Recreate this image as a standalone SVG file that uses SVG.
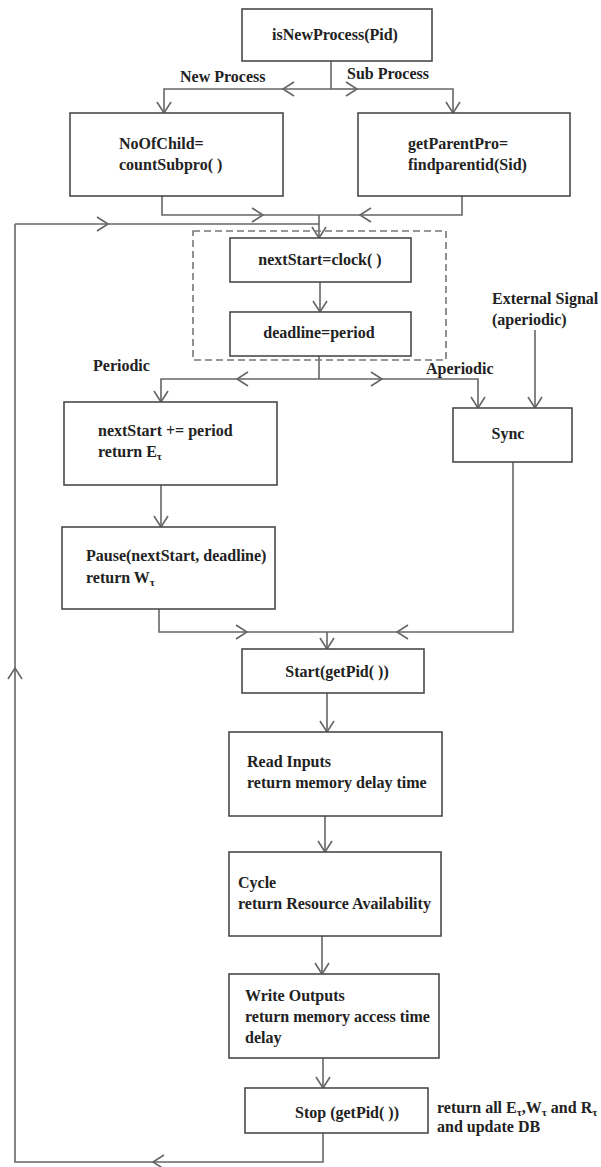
<svg xmlns="http://www.w3.org/2000/svg" width="601" height="1167" viewBox="0 0 601 1167">
<style>
.box{fill:#fff;stroke:#4a4a4a;stroke-width:1.6}
.dash{fill:none;stroke:#777;stroke-width:1.6;stroke-dasharray:7,4}
.ln{fill:none;stroke:#666;stroke-width:1.6}
.a{marker-end:url(#arr)}
text{font-family:"Liberation Serif","Times New Roman",serif;font-weight:bold;font-size:16px;fill:#222}
.c{text-anchor:middle}
.sub{font-size:11px}
</style>
<defs>
<marker id="arr" markerUnits="userSpaceOnUse" markerWidth="14" markerHeight="16" refX="12" refY="8" orient="auto" viewBox="0 0 14 16">
<path d="M1,1 L12,8 L1,15" fill="none" stroke="#666" stroke-width="1.6"/>
</marker>
</defs>
<rect width="601" height="1167" fill="#fff"/>

<g id="connectors">
<path class="ln" d="M331,61 V89"/>
<path class="ln a" d="M331,89 H283"/>
<path class="ln a" d="M283,89 H164 V113"/>
<path class="ln a" d="M331,89 H357"/>
<path class="ln a" d="M357,89 H453 V113"/>
<path class="ln a" d="M162,196 V215 H263"/>
<path class="ln" d="M263,215 H319"/>
<path class="ln a" d="M462,196 V215 H360"/>
<path class="ln" d="M360,215 H319"/>
<path class="ln a" d="M15,224 H108"/>
<path class="ln" d="M108,224 H319"/>
<path class="ln a" d="M319,215 V238"/>
<path class="ln a" d="M320,282 V312"/>
<path class="ln" d="M319,356 V379"/>
<path class="ln a" d="M319,379 H237"/>
<path class="ln a" d="M237,379 H161 V402"/>
<path class="ln a" d="M319,379 H382"/>
<path class="ln a" d="M382,379 H478 V408"/>
<path class="ln a" d="M535,330 V408"/>
<path class="ln a" d="M161,485 V527"/>
<path class="ln a" d="M159,609 V632 H247"/>
<path class="ln" d="M247,632 H327"/>
<path class="ln a" d="M513,462 V632 H397"/>
<path class="ln" d="M397,632 H327"/>
<path class="ln a" d="M327,632 V649"/>
<path class="ln a" d="M327,693 V732"/>
<path class="ln a" d="M325,816 V852"/>
<path class="ln a" d="M322,936 V974"/>
<path class="ln a" d="M323,1058 V1088"/>
<path class="ln a" d="M323,1133 V1162 H153"/>
<path class="ln a" d="M153,1162 H15 V668"/>
<path class="ln" d="M15,668 V224"/>
</g>

<g id="labels">
<text x="180" y="82">New Process</text>
<text x="347" y="79">Sub Process</text>
<text x="93" y="371">Periodic</text>
<text x="426" y="374">Aperiodic</text>
<text x="492" y="304">External Signal</text>
<text x="492" y="325">(aperiodic)</text>
<text x="437" y="1113">return all E<tspan class="sub" dy="3">τ</tspan><tspan dy="-3">,W</tspan><tspan class="sub" dy="3">τ</tspan><tspan dy="-3"> and R</tspan><tspan class="sub" dy="3">τ</tspan></text>
<text x="437" y="1132">and update DB</text>
</g>

<g id="isNewProcess">
<rect class="box" x="242" y="9" width="190" height="52"/>
<text class="c" x="335" y="40">isNewProcess(Pid)</text>
</g>

<g id="noOfChild">
<rect class="box" x="70" y="113" width="213" height="83"/>
<text x="119" y="149">NoOfChild=</text>
<text x="119" y="170">countSubpro( )</text>
</g>

<g id="getParentPro">
<rect class="box" x="358" y="113" width="212" height="83"/>
<text x="408" y="149">getParentPro=</text>
<text x="408" y="170">findparentid(Sid)</text>
</g>

<g id="initGroup">
<rect class="dash" x="193" y="231" width="253" height="129"/>
</g>

<g id="nextStartClock">
<rect class="box" x="230" y="238" width="181" height="44"/>
<text class="c" x="320" y="265">nextStart=clock( )</text>
</g>

<g id="deadline">
<rect class="box" x="230" y="312" width="181" height="44"/>
<text class="c" x="319" y="338">deadline=period</text>
</g>

<g id="periodicStep">
<rect class="box" x="64" y="402" width="213" height="83"/>
<text x="98" y="436">nextStart += period</text>
<text x="98" y="457">return E<tspan class="sub" dy="3">τ</tspan></text>
</g>

<g id="sync">
<rect class="box" x="453" y="408" width="119" height="54"/>
<text class="c" x="508" y="439">Sync</text>
</g>

<g id="pause">
<rect class="box" x="62" y="527" width="213" height="82"/>
<text x="86" y="561">Pause(nextStart, deadline)</text>
<text x="86" y="583">return W<tspan class="sub" dy="3">τ</tspan></text>
</g>

<g id="start">
<rect class="box" x="242" y="649" width="182" height="44"/>
<text class="c" x="337" y="677">Start(getPid( ))</text>
</g>

<g id="readInputs">
<rect class="box" x="229" y="732" width="213" height="84"/>
<text x="247" y="767">Read Inputs</text>
<text x="247" y="788">return memory delay time</text>
</g>

<g id="cycle">
<rect class="box" x="229" y="852" width="212" height="84"/>
<text x="238" y="888">Cycle</text>
<text x="238" y="909">return Resource Availability</text>
</g>

<g id="writeOutputs">
<rect class="box" x="229" y="974" width="210" height="84"/>
<text x="245" y="1001">Write Outputs</text>
<text x="245" y="1022">return memory access time</text>
<text x="245" y="1043">delay</text>
</g>

<g id="stop">
<rect class="box" x="245" y="1088" width="183" height="45"/>
<text class="c" x="347" y="1118">Stop (getPid( ))</text>
</g>
</svg>
